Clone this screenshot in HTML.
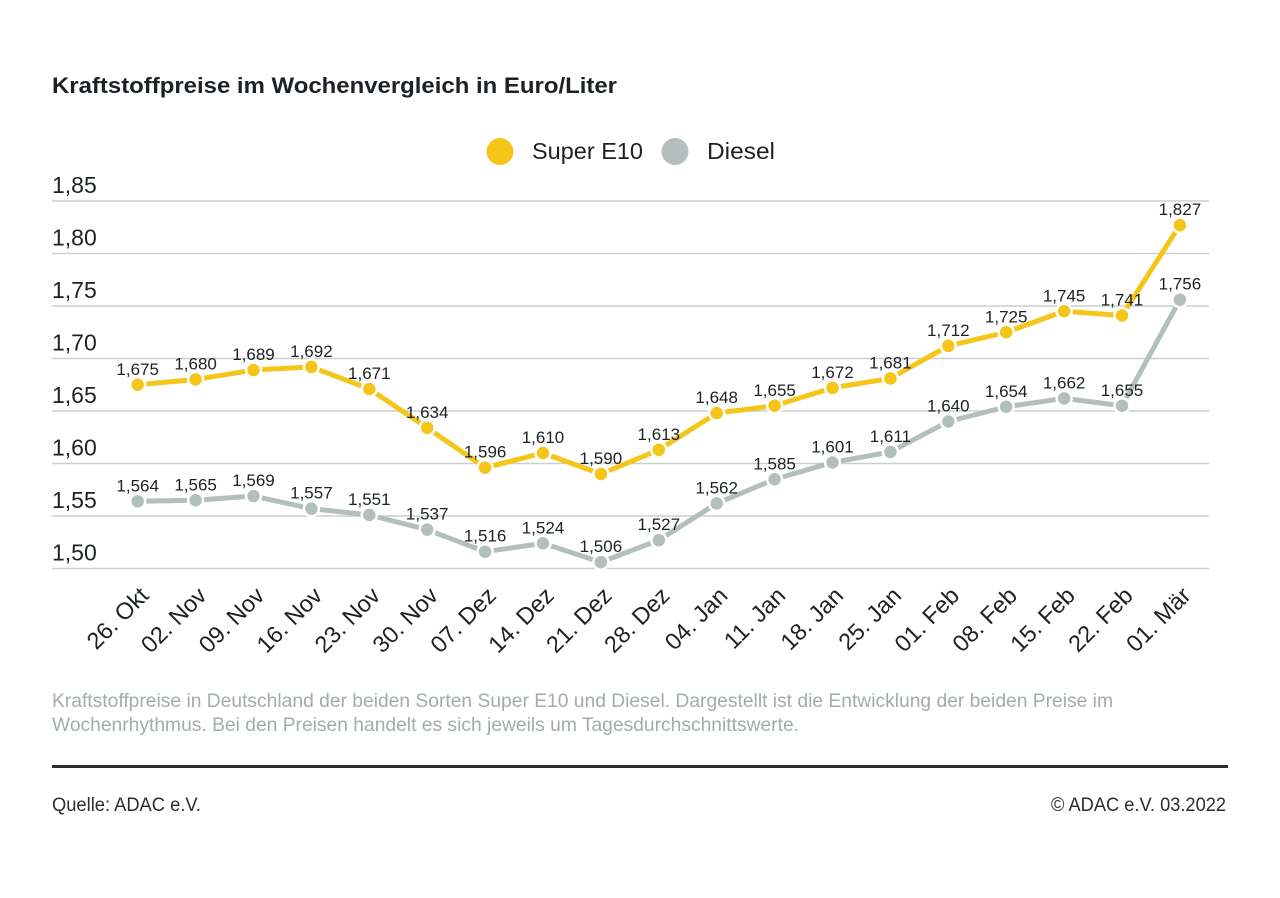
<!DOCTYPE html>
<html>
<head>
<meta charset="utf-8">
<style>
  html, body { margin:0; padding:0; background:#ffffff; }
  svg { display:block; }
  text { font-family: "Liberation Sans", "DejaVu Sans", sans-serif; }
</style>
</head>
<body>
<svg width="1280" height="898" viewBox="0 0 1280 898" xmlns="http://www.w3.org/2000/svg">
  <rect x="0" y="0" width="1280" height="898" fill="#ffffff"/>

  <!-- Title -->
  <text x="52" y="93" font-size="22.5" font-weight="bold" fill="#1d2124" textLength="565" lengthAdjust="spacingAndGlyphs">Kraftstoffpreise im Wochenvergleich in Euro/Liter</text>

  <!-- Legend -->
  <circle cx="500" cy="151.5" r="13.5" fill="#f6c519"/>
  <text x="532" y="159" font-size="23.5" fill="#1d2124" textLength="111" lengthAdjust="spacingAndGlyphs">Super E10</text>
  <circle cx="675" cy="151.5" r="13.5" fill="#b3bfbc"/>
  <text x="707" y="159" font-size="23.5" fill="#1d2124" textLength="68" lengthAdjust="spacingAndGlyphs">Diesel</text>

  <!-- Gridlines -->
  <g stroke="#c9d0ce" stroke-width="1.5">
    <line x1="52" y1="201" x2="1209" y2="201"/>
    <line x1="52" y1="253.5" x2="1209" y2="253.5"/>
    <line x1="52" y1="306" x2="1209" y2="306"/>
    <line x1="52" y1="358.5" x2="1209" y2="358.5"/>
    <line x1="52" y1="411" x2="1209" y2="411"/>
    <line x1="52" y1="463.5" x2="1209" y2="463.5"/>
    <line x1="52" y1="516" x2="1209" y2="516"/>
    <line x1="52" y1="568.5" x2="1209" y2="568.5"/>
  </g>

  <!-- Y labels -->
  <g font-size="23" fill="#1d2124">
    <text x="52" y="193">1,85</text>
    <text x="52" y="245.5">1,80</text>
    <text x="52" y="298">1,75</text>
    <text x="52" y="350.5">1,70</text>
    <text x="52" y="403">1,65</text>
    <text x="52" y="455.5">1,60</text>
    <text x="52" y="508">1,55</text>
    <text x="52" y="560.5">1,50</text>
  </g>

  <!-- Diesel line -->
  <polyline fill="none" stroke="#b3bfbc" stroke-width="5" stroke-linejoin="round" stroke-linecap="round"
    points="137.7,501.3 195.6,500.25 253.5,496.05 311.4,508.65 369.3,514.95 427.2,529.65 485.1,551.7 543,543.3 600.9,562.2 658.8,540.15 716.7,503.4 774.6,479.25 832.5,462.45 890.4,451.95 948.3,421.5 1006.2,406.8 1064.1,398.4 1122,405.75 1179.9,299.7"/>
  <!-- E10 line -->
  <polyline fill="none" stroke="#f6c519" stroke-width="5" stroke-linejoin="round" stroke-linecap="round"
    points="137.7,384.75 195.6,379.5 253.5,370.05 311.4,366.9 369.3,388.95 427.2,427.8 485.1,467.7 543,453 600.9,474 658.8,449.85 716.7,413.1 774.6,405.75 832.5,387.9 890.4,378.45 948.3,345.9 1006.2,332.25 1064.1,311.25 1122,315.45 1179.9,225.15"/>

  <!-- Diesel dots -->
  <g fill="#b3bfbc" stroke="#ffffff" stroke-width="2.5">
    <circle cx="137.7" cy="501.3" r="7.5"/>
    <circle cx="195.6" cy="500.25" r="7.5"/>
    <circle cx="253.5" cy="496.05" r="7.5"/>
    <circle cx="311.4" cy="508.65" r="7.5"/>
    <circle cx="369.3" cy="514.95" r="7.5"/>
    <circle cx="427.2" cy="529.65" r="7.5"/>
    <circle cx="485.1" cy="551.7" r="7.5"/>
    <circle cx="543" cy="543.3" r="7.5"/>
    <circle cx="600.9" cy="562.2" r="7.5"/>
    <circle cx="658.8" cy="540.15" r="7.5"/>
    <circle cx="716.7" cy="503.4" r="7.5"/>
    <circle cx="774.6" cy="479.25" r="7.5"/>
    <circle cx="832.5" cy="462.45" r="7.5"/>
    <circle cx="890.4" cy="451.95" r="7.5"/>
    <circle cx="948.3" cy="421.5" r="7.5"/>
    <circle cx="1006.2" cy="406.8" r="7.5"/>
    <circle cx="1064.1" cy="398.4" r="7.5"/>
    <circle cx="1122" cy="405.75" r="7.5"/>
    <circle cx="1179.9" cy="299.7" r="7.5"/>
  </g>
  <!-- E10 dots -->
  <g fill="#f6c519" stroke="#ffffff" stroke-width="2.5">
    <circle cx="137.7" cy="384.75" r="7.5"/>
    <circle cx="195.6" cy="379.5" r="7.5"/>
    <circle cx="253.5" cy="370.05" r="7.5"/>
    <circle cx="311.4" cy="366.9" r="7.5"/>
    <circle cx="369.3" cy="388.95" r="7.5"/>
    <circle cx="427.2" cy="427.8" r="7.5"/>
    <circle cx="485.1" cy="467.7" r="7.5"/>
    <circle cx="543" cy="453" r="7.5"/>
    <circle cx="600.9" cy="474" r="7.5"/>
    <circle cx="658.8" cy="449.85" r="7.5"/>
    <circle cx="716.7" cy="413.1" r="7.5"/>
    <circle cx="774.6" cy="405.75" r="7.5"/>
    <circle cx="832.5" cy="387.9" r="7.5"/>
    <circle cx="890.4" cy="378.45" r="7.5"/>
    <circle cx="948.3" cy="345.9" r="7.5"/>
    <circle cx="1006.2" cy="332.25" r="7.5"/>
    <circle cx="1064.1" cy="311.25" r="7.5"/>
    <circle cx="1122" cy="315.45" r="7.5"/>
    <circle cx="1179.9" cy="225.15" r="7.5"/>
  </g>

  <!-- E10 value labels -->
  <g font-size="17" fill="#1d2124" text-anchor="middle">
    <text x="137.7" y="374.75">1,675</text>
    <text x="195.6" y="369.5">1,680</text>
    <text x="253.5" y="360.05">1,689</text>
    <text x="311.4" y="356.9">1,692</text>
    <text x="369.3" y="378.95">1,671</text>
    <text x="427.2" y="417.8">1,634</text>
    <text x="485.1" y="457.7">1,596</text>
    <text x="543" y="443">1,610</text>
    <text x="600.9" y="464">1,590</text>
    <text x="658.8" y="439.85">1,613</text>
    <text x="716.7" y="403.1">1,648</text>
    <text x="774.6" y="395.75">1,655</text>
    <text x="832.5" y="377.9">1,672</text>
    <text x="890.4" y="368.45">1,681</text>
    <text x="948.3" y="335.9">1,712</text>
    <text x="1006.2" y="322.25">1,725</text>
    <text x="1064.1" y="301.25">1,745</text>
    <text x="1122" y="305.45">1,741</text>
    <text x="1179.9" y="215.15">1,827</text>
  </g>
  <!-- Diesel value labels -->
  <g font-size="17" fill="#1d2124" text-anchor="middle">
    <text x="137.7" y="491.3">1,564</text>
    <text x="195.6" y="490.25">1,565</text>
    <text x="253.5" y="486.05">1,569</text>
    <text x="311.4" y="498.65">1,557</text>
    <text x="369.3" y="504.95">1,551</text>
    <text x="427.2" y="519.65">1,537</text>
    <text x="485.1" y="541.7">1,516</text>
    <text x="543" y="533.3">1,524</text>
    <text x="600.9" y="552.2">1,506</text>
    <text x="658.8" y="530.15">1,527</text>
    <text x="716.7" y="493.4">1,562</text>
    <text x="774.6" y="469.25">1,585</text>
    <text x="832.5" y="452.45">1,601</text>
    <text x="890.4" y="441.95">1,611</text>
    <text x="948.3" y="411.5">1,640</text>
    <text x="1006.2" y="396.8">1,654</text>
    <text x="1064.1" y="388.4">1,662</text>
    <text x="1122" y="395.75">1,655</text>
    <text x="1179.9" y="289.7">1,756</text>
  </g>

  <!-- X labels -->
  <g font-size="23.5" fill="#1d2124" text-anchor="end">
    <text transform="translate(150,597) rotate(-45)">26. Okt</text>
    <text transform="translate(207.9,597) rotate(-45)">02. Nov</text>
    <text transform="translate(265.8,597) rotate(-45)">09. Nov</text>
    <text transform="translate(323.7,597) rotate(-45)">16. Nov</text>
    <text transform="translate(381.6,597) rotate(-45)">23. Nov</text>
    <text transform="translate(439.5,597) rotate(-45)">30. Nov</text>
    <text transform="translate(497.4,597) rotate(-45)">07. Dez</text>
    <text transform="translate(555.3,597) rotate(-45)">14. Dez</text>
    <text transform="translate(613.2,597) rotate(-45)">21. Dez</text>
    <text transform="translate(671.1,597) rotate(-45)">28. Dez</text>
    <text transform="translate(729,597) rotate(-45)">04. Jan</text>
    <text transform="translate(786.9,597) rotate(-45)">11. Jan</text>
    <text transform="translate(844.8,597) rotate(-45)">18. Jan</text>
    <text transform="translate(902.7,597) rotate(-45)">25. Jan</text>
    <text transform="translate(960.6,597) rotate(-45)">01. Feb</text>
    <text transform="translate(1018.5,597) rotate(-45)">08. Feb</text>
    <text transform="translate(1076.4,597) rotate(-45)">15. Feb</text>
    <text transform="translate(1134.3,597) rotate(-45)">22. Feb</text>
    <text transform="translate(1192.2,597) rotate(-45)">01. Mär</text>
  </g>

  <!-- Footnote -->
  <g font-size="19.5" fill="#a2acaa">
    <text x="52" y="707" textLength="1061" lengthAdjust="spacingAndGlyphs">Kraftstoffpreise in Deutschland der beiden Sorten Super E10 und Diesel. Dargestellt ist die Entwicklung der beiden Preise im</text>
    <text x="52" y="731" textLength="747" lengthAdjust="spacingAndGlyphs">Wochenrhythmus. Bei den Preisen handelt es sich jeweils um Tagesdurchschnittswerte.</text>
  </g>

  <!-- Rule -->
  <rect x="52" y="765" width="1176" height="3" fill="#2a2f33"/>

  <!-- Source -->
  <text x="52" y="811" font-size="19" fill="#2a2e31" textLength="149" lengthAdjust="spacingAndGlyphs">Quelle: ADAC e.V.</text>
  <text x="1226" y="811" font-size="19" fill="#2a2e31" text-anchor="end" textLength="175" lengthAdjust="spacingAndGlyphs">© ADAC e.V. 03.2022</text>
</svg>
</body>
</html>
